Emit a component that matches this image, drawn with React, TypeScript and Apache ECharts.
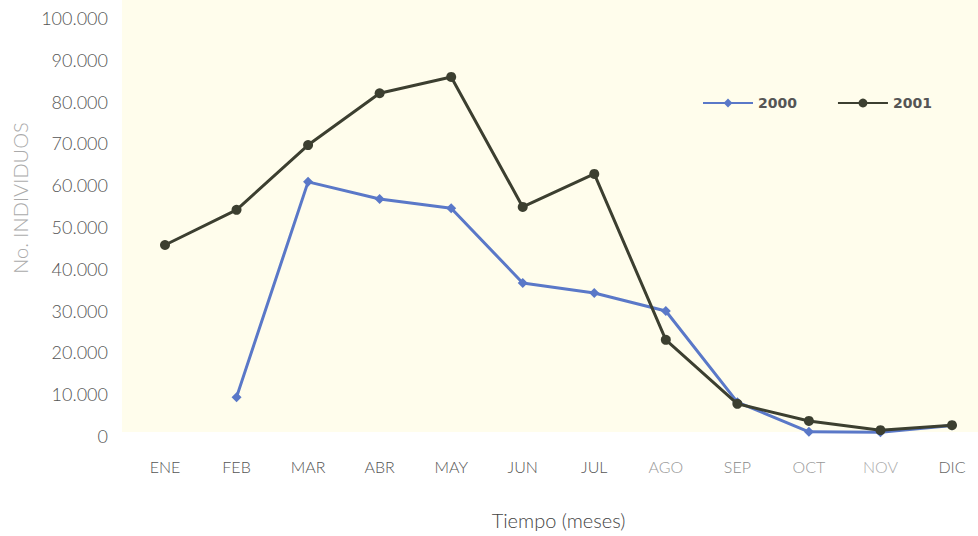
import React, { useEffect, useRef } from "react";
import * as echarts from "echarts";

const months = ["ENE", "FEB", "MAR", "ABR", "MAY", "JUN", "JUL", "AGO", "SEP", "OCT", "NOV", "DIC"];
const labelColors = ["#555", "#555", "#555", "#555", "#555", "#555", "#555", "#999", "#888", "#999", "#aaa", "#666"];
const series2000: (number | null)[] = [null, 9300, 60800, 56700, 54500, 36600, 34200, 29900, 8100, 1000, 900, 2500];
const series2001: number[] = [45700, 54100, 69600, 82000, 85900, 54800, 62700, 23000, 7700, 3600, 1400, 2600];
const yTicks = { min: 0, max: 100000, interval: 10000 };
const yTitle = "No. INDIVIDUOS";
const xTitle = "Tiempo (meses)";

export default function App() {
  const ref = useRef<HTMLDivElement>(null);
  useEffect(() => {
    if (!ref.current) return;
    const chart = echarts.init(ref.current, null, { renderer: "svg" });
    chart.setOption({
      animation: false,
      backgroundColor: "#ffffff",
      textStyle: { fontFamily: "Lato, 'Open Sans', sans-serif" },
      graphic: [
        {
          type: "rect",
          z: -10,
          silent: true,
          shape: { x: 122, y: 0, width: 856, height: 432 },
          style: { fill: "#fffdec" },
        },
        {
          type: "text",
          x: 20,
          y: 198,
          rotation: Math.PI / 2,
          style: {
            text: yTitle,
            fill: "#aaa",
            fontSize: 20,
            fontWeight: 300,
            fontFamily: "Lato, sans-serif",
            align: "center",
            verticalAlign: "middle",
          },
        },
      ],
      legend: {
        left: 697,
        top: 91,
        itemWidth: 50,
        itemHeight: 11,
        itemGap: 40,
        textStyle: { color: "#555", fontSize: 14, fontWeight: "bold", fontFamily: "'DejaVu Sans', sans-serif" },
        data: ["2000", "2001"],
      },
      grid: { left: 165, right: 26, top: 18, bottom: 100, containLabel: false },
      xAxis: {
        type: "category",
        data: months,
        boundaryGap: false,
        axisLine: { show: false },
        axisTick: { show: false },
        axisLabel: {
          margin: 22,
          fontSize: 16,
          fontWeight: 300,
          color: (_v: string, i: number) => labelColors[i],
          fontFamily: "Lato, 'Open Sans', sans-serif",
        },
        name: xTitle,
        nameLocation: "middle",
        nameGap: 74,
        nameTextStyle: { fontSize: 20, color: "#444", fontWeight: 300 },
      },
      yAxis: {
        type: "value",
        min: yTicks.min,
        max: yTicks.max,
        interval: yTicks.interval,
        splitLine: { show: false },
        axisLine: { show: false },
        axisTick: { show: false },
        axisLabel: {
          margin: 57,
          fontSize: 18,
          fontWeight: 300,
          color: "#555",
          formatter: (v: number) => (v === 0 ? "0" : (v / 1000).toFixed(3)),
        },
      },
      series: [
        {
          name: "2000",
          type: "line",
          data: series2000,
          connectNulls: false,
          symbol: "diamond",
          symbolSize: 10,
          lineStyle: { color: "#5a78c8", width: 3 },
          itemStyle: { color: "#5a78c8" },
          z: 2,
        },
        {
          name: "2001",
          type: "line",
          data: series2001,
          symbol: "circle",
          symbolSize: 10,
          lineStyle: { color: "#3c3f30", width: 3 },
          itemStyle: { color: "#3c3f30" },
          z: 3,
        },
      ],
    });
    return () => chart.dispose();
  }, []);
  return <div ref={ref} style={{ width: 978, height: 536, position: "absolute", left: 0, top: 0 }} />;
}
